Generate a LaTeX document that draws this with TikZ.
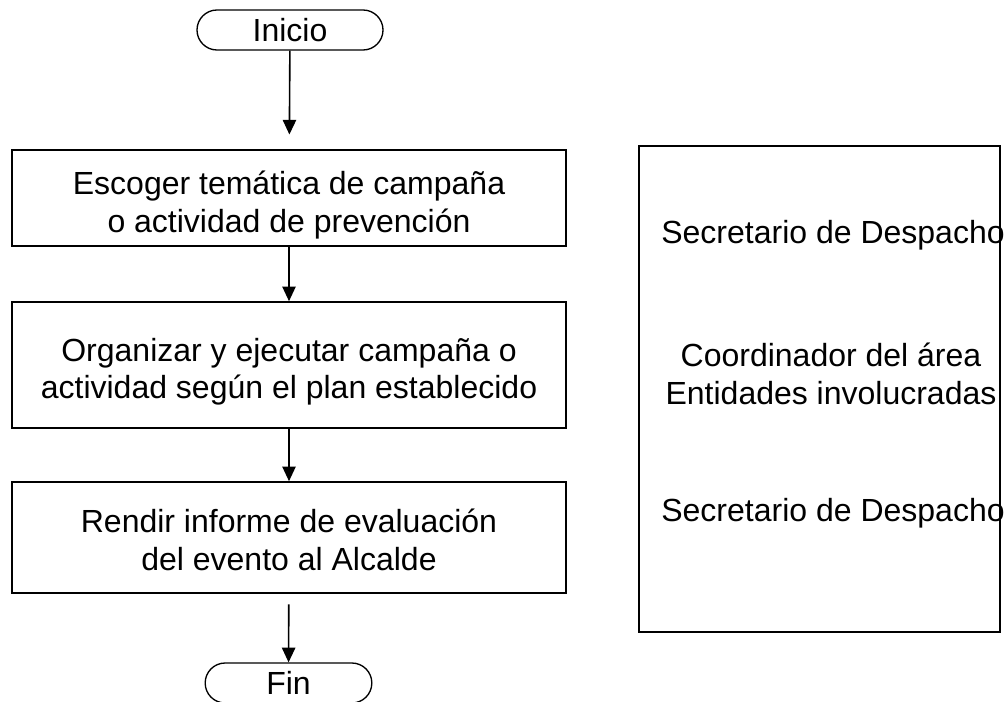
\documentclass[tikz,border=0pt]{standalone}
\usepackage{fontspec}
\setmainfont{Liberation Sans}
\usetikzlibrary{arrows.meta}

\begin{document}
\begin{tikzpicture}[
    x=0.75pt, y=-0.75pt,
    >={Triangle[length=11pt, width=10pt]},
    terminal/.style={
        draw, rectangle, rounded corners=15pt, line width=1pt,
        minimum height=30pt, inner sep=0pt,
        font=\fontsize{24}{28}\selectfont
    },
    process/.style={
        draw, rectangle, line width=1.2pt, minimum width=415.5pt,
        inner sep=0pt
    },
    label text/.style={align=center, inner sep=0pt, font=\fontsize{24}{28}\selectfont},
    flow/.style={->, line width=1.2pt}
]

\useasboundingbox (0,0) rectangle (1005,702);

% -------------------------
% Flow (left column)
% -------------------------

% Start
\node[terminal, minimum width=139.5pt] (inicio) at (290, 30) {Inicio};

% 1. Choose topic
\node[process, minimum height=72pt] (escoger) at (289, 198) {};
\node[label text] (escogerTxt) at (289, 205) {
    Escoger temática de campaña \\
    o actividad de prevención
};

% 2. Organise and run
\node[process, minimum height=94.5pt] (organizar) at (289, 365) {};
\node[label text] (organizarTxt) at (289, 372) {
    Organizar y ejecutar campaña o \\
    actividad según el plan establecido
};

% 3. Report
\node[process, minimum height=83.25pt] (rendir) at (289, 537.5) {};
\node[label text] (rendirTxt) at (289, 540) {
    Rendir informe de evaluación \\
    del evento al Alcalde
};

% End
\node[terminal, minimum width=125pt] (fin) at (288.5, 683) {};
\node[label text] (finTxt) at (288.5, 683) {Fin};

% -------------------------
% Responsibles (right column)
% -------------------------

\node[label text] (resp1) at (833, 235) {Secretario de Despacho};
\node[label text] (resp2) at (831, 374) {Coordinador del área \\ Entidades involucradas};
\node[label text] (resp3) at (833, 513) {Secretario de Despacho};

\node[draw, rectangle, line width=1.2pt, minimum width=270.75pt,
      minimum height=364.5pt, inner sep=0pt] (roles) at (819.5, 389) {};

% -------------------------
% Connections
% -------------------------

\draw[flow, shorten >=11pt] (inicio) -- (escoger);
\draw[flow] (escoger) -- (organizar);
\draw[flow] (organizar) -- (rendir);
\draw[flow, shorten <=8pt] (rendir) -- (fin);

\end{tikzpicture}
\end{document}
